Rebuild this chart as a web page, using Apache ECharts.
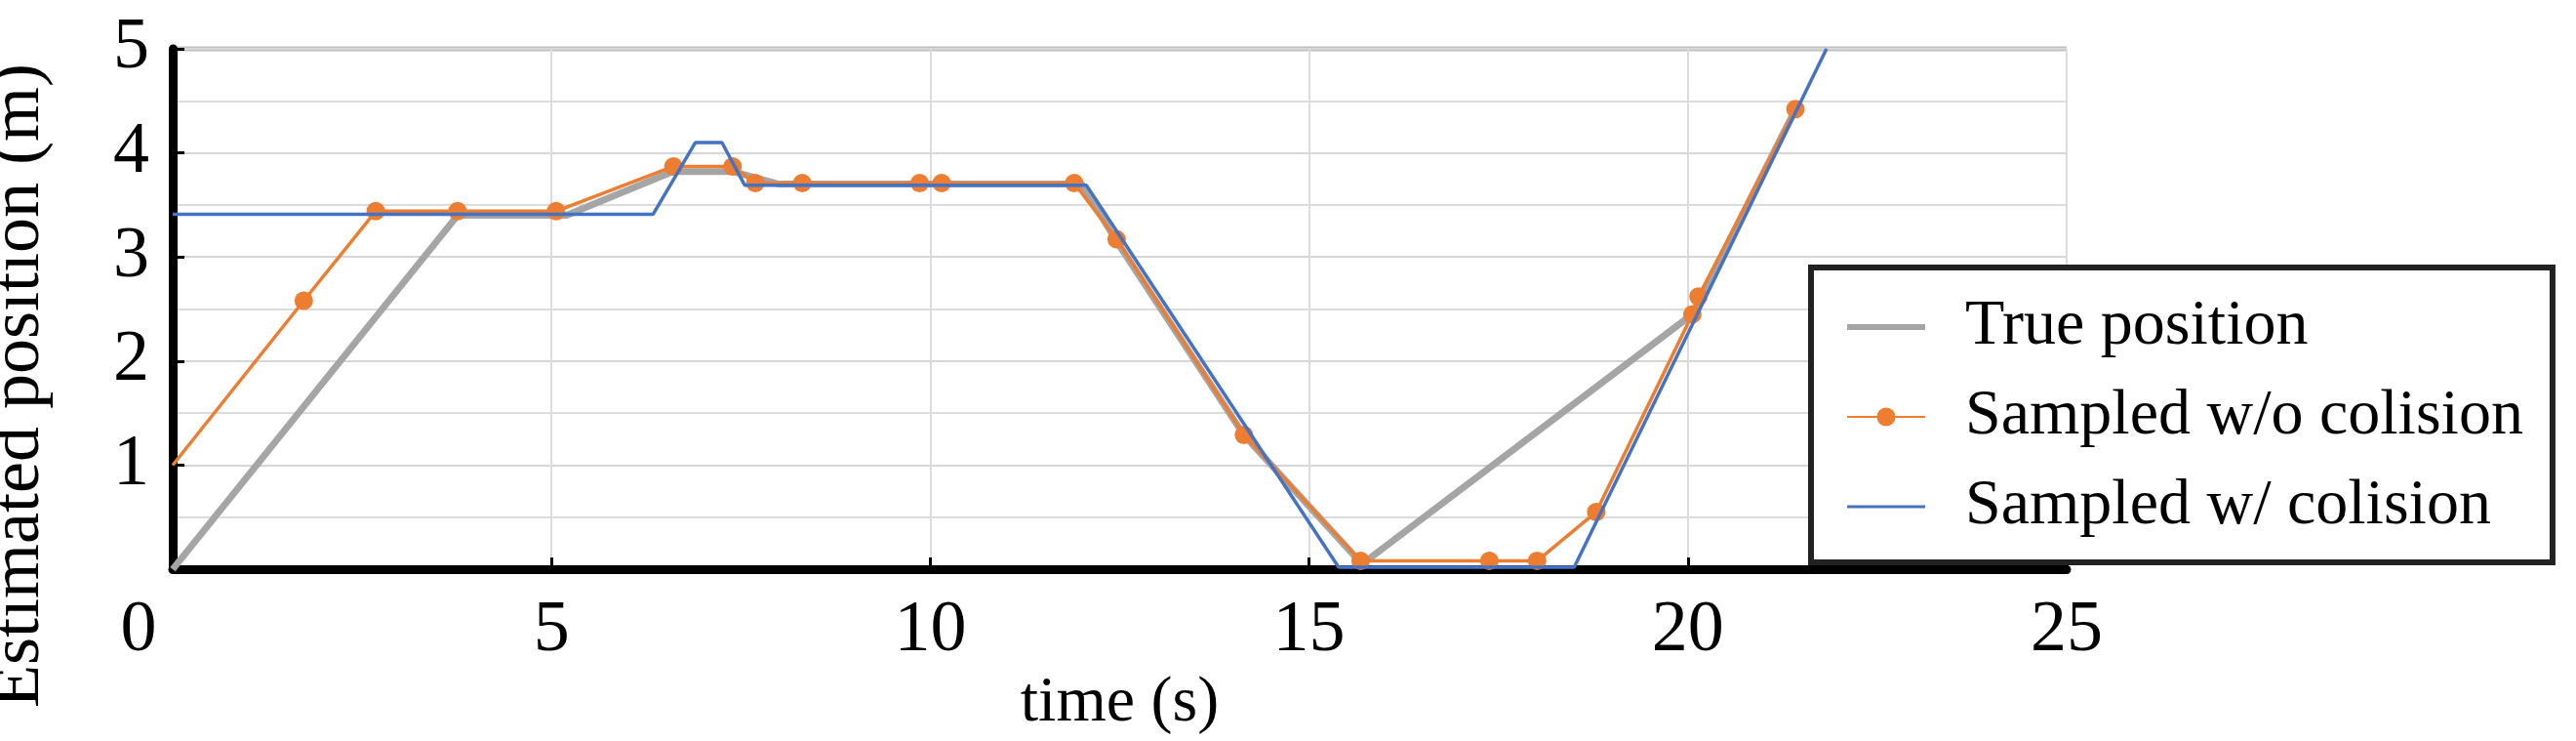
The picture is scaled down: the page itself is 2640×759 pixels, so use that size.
<!DOCTYPE html>
<html>
<head>
<meta charset="utf-8">
<script src="https://cdn.jsdelivr.net/npm/echarts@6/dist/echarts.min.js"></script>
<style>html,body{margin:0;padding:0;background:#fff}#c{width:2640px;height:759px}</style>
</head>
<body>
<div id="c"></div>
<script>
// series data: [time (s), position (m)]
var truePos = [[0,0],[3.76,3.4],[5.2,3.4],[6.6,3.82],[7.4,3.82],[8.0,3.7],[12.0,3.7],[12.46,3.15],[14.14,1.29],[15.7,0.05],[20.06,2.45],[21.42,4.42]];
var sampledNoCol = [[0,1.0],[1.73,2.58],[2.68,3.44],[3.76,3.44],[5.06,3.44],[6.61,3.87],[7.39,3.87],[7.69,3.71],[8.31,3.71],[9.86,3.71],[10.15,3.71],[11.9,3.71],[12.46,3.17],[14.14,1.29],[15.68,0.08],[17.38,0.08],[18.01,0.08],[18.79,0.55],[20.06,2.45],[20.14,2.62],[21.42,4.42]];
var sampledCol = [[0,3.41],[6.34,3.41],[6.9,4.1],[7.25,4.1],[7.55,3.69],[12.06,3.69],[15.39,0.02],[18.5,0.02],[21.83,5.0]];
var xTicks = [0,5,10,15,20,25];
var yTicks = [1,2,3,4,5];

var font = '"Liberation Serif", "DejaVu Serif", serif';
var chart = echarts.init(document.getElementById('c'));
var noColData = sampledNoCol.map(function (p, i) {
  return i === 0 ? {value: p, symbol: 'none'} : p;
});
chart.setOption({
  animation: false,
  textStyle: {fontFamily: font},
  grid: {left: 177, right: 522, top: 50, bottom: 156},
  legend: {
    orient: 'vertical',
    left: 1856, top: 274,
    width: 774,
    padding: [28, 30, 24, 36],
    itemGap: 26,
    itemWidth: 80, itemHeight: 24,
    borderColor: '#222', borderWidth: 6,
    backgroundColor: '#fff',
    textStyle: {fontFamily: font, fontSize: 66, color: '#000', padding: [0, 0, 0, 36]},
    data: [
      {name: 'True position', icon: 'path://M0,10 L80,10 L80,16 L0,16 Z'},
      {name: 'Sampled w/o colision'},
      {name: 'Sampled w/ colision', icon: 'path://M0,11 L80,11 L80,14 L0,14 Z'}
    ]
  },
  xAxis: {
    type: 'value', min: 0, max: 25, interval: 5,
    name: 'time (s)', nameLocation: 'middle', nameGap: 104,
    nameTextStyle: {fontFamily: font, fontSize: 66, color: '#000'},
    axisLine: {lineStyle: {color: '#000', width: 9}},
    axisTick: {inside: true, length: 12, lineStyle: {color: '#000', width: 3}},
    axisLabel: {
      fontFamily: font, fontSize: 74, color: '#000', margin: 26,
      formatter: function (v) { return v === 0 ? '{z|0}' : String(v); },
      rich: {z: {fontFamily: font, fontSize: 74, color: '#000', padding: [0, 70, 0, 0]}}
    },
    splitLine: {show: true, lineStyle: {color: '#dcdcdc', width: 2}}
  },
  yAxis: {
    type: 'value', min: 0, max: 5, interval: 1,
    axisLine: {show: true, lineStyle: {color: '#000', width: 9}},
    axisTick: {show: true, inside: true, length: 12, lineStyle: {color: '#000', width: 3}},
    axisLabel: {
      fontFamily: font, fontSize: 74, color: '#000', margin: 24,
      formatter: function (v) { return v === 0 ? '' : String(v); }
    },
    splitLine: {lineStyle: {color: '#d6d6d6', width: 2}},
    minorTick: {show: false, splitNumber: 2},
    minorSplitLine: {show: true, lineStyle: {color: '#dcdcdc', width: 2}}
  },
  graphic: [{
    type: 'text', x: 20, y: 395, rotation: Math.PI / 2,
    style: {text: 'Estimated position (m)', font: '72px ' + font, fill: '#000', align: 'center', verticalAlign: 'middle'}
  }, {
    type: 'line', shape: {x1: 177, y1: 50, x2: 2118, y2: 50},
    style: {stroke: '#c0c0c0', lineWidth: 5}
  }],
  series: [{
    name: 'True position', type: 'line', data: truePos,
    symbol: 'none', lineStyle: {color: '#a5a5a5', width: 7}, itemStyle: {color: '#a5a5a5'}, z: 1
  }, {
    name: 'Sampled w/o colision', type: 'line', data: noColData,
    symbol: 'circle', symbolSize: 19, showAllSymbol: true,
    lineStyle: {color: '#ed7d31', width: 3.5}, itemStyle: {color: '#ed7d31'}, z: 2
  }, {
    name: 'Sampled w/ colision', type: 'line', data: sampledCol,
    symbol: 'none', lineStyle: {color: '#4472c4', width: 3.5}, itemStyle: {color: '#4472c4'}, z: 3
  }]
});
</script>
</body>
</html>
